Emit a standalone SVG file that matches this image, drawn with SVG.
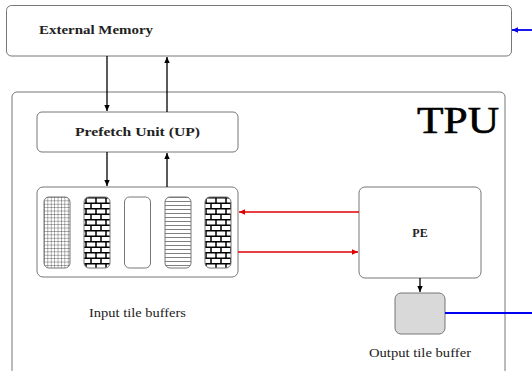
<svg xmlns="http://www.w3.org/2000/svg" width="532" height="371" viewBox="0 0 532 371">
<style>
.box{fill:#fff;stroke:#777;stroke-width:1}
.lbl{font-family:"Liberation Serif",serif;font-size:12px;fill:#222}
.b{font-weight:bold}
.blk{stroke:#000;stroke-width:1.3;fill:none}
.red{stroke:#e00000;stroke-width:1.5;fill:none}
.blue{stroke:#0000ee;stroke-width:1.8;fill:none}
</style>
<defs>
<marker id="ak" markerWidth="8" markerHeight="8" refX="7" refY="4" orient="auto" markerUnits="userSpaceOnUse"><path d="M1,1.3 L7,4 L1,6.7 Z" fill="#000"/></marker>
<marker id="ar" markerWidth="8" markerHeight="8" refX="7" refY="4" orient="auto" markerUnits="userSpaceOnUse"><path d="M1,1.3 L7,4 L1,6.7 Z" fill="#e00000"/></marker>
<marker id="ab" markerWidth="8" markerHeight="8" refX="7" refY="4" orient="auto" markerUnits="userSpaceOnUse"><path d="M1,1.3 L7,4 L1,6.7 Z" fill="#0000ee"/></marker>
<pattern id="grid" width="3.4" height="3.4" patternUnits="userSpaceOnUse" x="44" y="197"><path d="M0,0 H3.4 M0,0 V3.4" stroke="#000" stroke-width="0.6" fill="none"/></pattern>
<pattern id="brick" width="10" height="11" patternUnits="userSpaceOnUse" x="84" y="197"><rect width="10" height="11" fill="#fff"/><path d="M0,0.7 H10 M0,6.2 H10 M2,0.7 V6.2 M7,6.2 V11" stroke="#000" stroke-width="1.5" fill="none"/></pattern>
<pattern id="hl" width="4" height="4" patternUnits="userSpaceOnUse" x="165" y="197"><path d="M0,0.5 H4" stroke="#000" stroke-width="0.5"/></pattern>
</defs>
<g id="tpu">
<rect x="12" y="92" width="493" height="300" rx="5" class="box"/>
<text x="458" y="133" font-family="Liberation Serif,serif" font-size="38" text-anchor="middle" textLength="82" lengthAdjust="spacingAndGlyphs" fill="#000" stroke="#000" stroke-width="0.6">TPU</text>
</g>
<g id="external-memory">
<rect x="6.5" y="5.5" width="505" height="50.5" rx="5" class="box"/>
<text x="39" y="34" class="lbl b" textLength="114" lengthAdjust="spacingAndGlyphs">External Memory</text>
</g>
<g id="prefetch-unit">
<rect x="37" y="112" width="201" height="40" rx="5" class="box"/>
<text x="137.5" y="136" class="lbl b" text-anchor="middle" textLength="125" lengthAdjust="spacingAndGlyphs">Prefetch Unit (UP)</text>
</g>
<g id="input-tile-buffers">
<rect x="37" y="187" width="201" height="90" rx="6" class="box"/>
<rect x="44" y="197" width="26" height="71" rx="5" fill="url(#grid)" stroke="#777"/>
<rect x="84" y="197" width="26" height="71" rx="5" fill="url(#brick)" stroke="#777"/>
<rect x="124.5" y="197" width="26" height="71" rx="5" fill="#fff" stroke="#777"/>
<rect x="165" y="197" width="26" height="71" rx="5" fill="url(#hl)" stroke="#777"/>
<rect x="205" y="197" width="26" height="71" rx="5" fill="url(#brick)" stroke="#777"/>
<text x="137.5" y="317" class="lbl" text-anchor="middle" textLength="97" lengthAdjust="spacingAndGlyphs">Input tile buffers</text>
</g>
<g id="pe">
<rect x="359" y="187" width="122" height="91" rx="6" class="box"/>
<text x="420" y="237" class="lbl b" text-anchor="middle" font-size="13">PE</text>
</g>
<g id="output-tile-buffer">
<rect x="395" y="293" width="50" height="41" rx="6" fill="#d9d9d9" stroke="#777"/>
<text x="420" y="357" class="lbl" text-anchor="middle" textLength="102" lengthAdjust="spacingAndGlyphs">Output tile buffer</text>
</g>
<g id="connectors">
<line x1="107" y1="56" x2="107" y2="111" class="blk" marker-end="url(#ak)"/>
<line x1="167" y1="112" x2="167" y2="57" class="blk" marker-end="url(#ak)"/>
<line x1="107" y1="152" x2="107" y2="186" class="blk" marker-end="url(#ak)"/>
<line x1="167" y1="187" x2="167" y2="153" class="blk" marker-end="url(#ak)"/>
<line x1="359" y1="212" x2="239" y2="212" class="red" marker-end="url(#ar)"/>
<line x1="238" y1="252" x2="358" y2="252" class="red" marker-end="url(#ar)"/>
<line x1="420" y1="278" x2="420" y2="292" class="blk" marker-end="url(#ak)"/>
<line x1="445" y1="313" x2="532" y2="313" class="blue"/>
<line x1="532" y1="30" x2="512" y2="30" class="blue" marker-end="url(#ab)"/>
</g>
</svg>
